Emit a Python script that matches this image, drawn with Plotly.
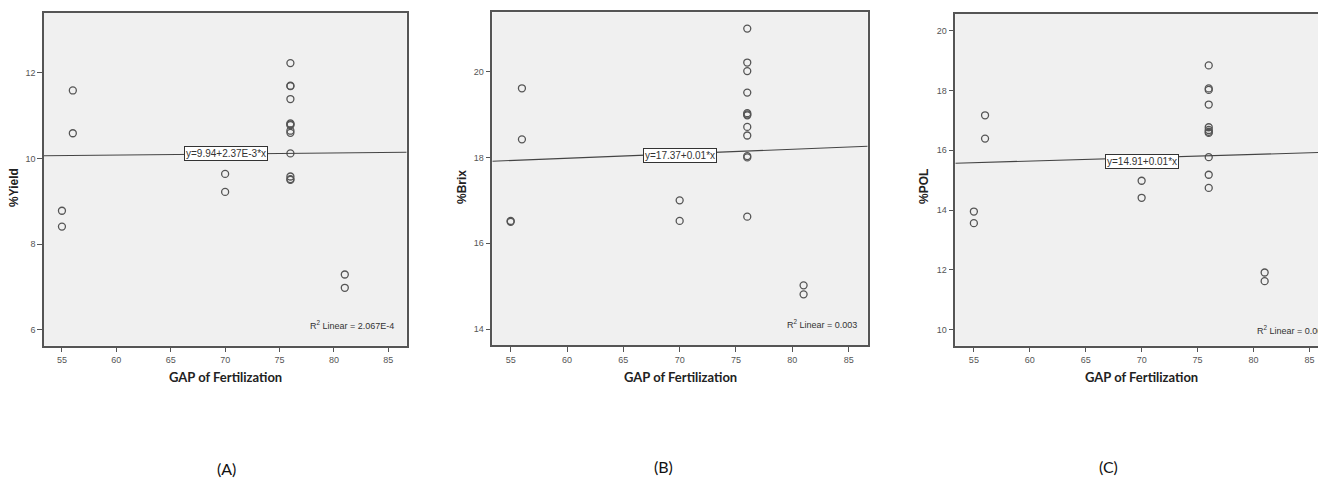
import plotly.graph_objects as go

W, H = 1318, 479

# ---------------- data ----------------
gap_a = [55, 55, 56, 56, 70, 70] + [76] * 13 + [81, 81]
yield_a = [8.78, 8.41, 11.59, 10.59, 9.64, 9.22,
           12.23, 11.70, 11.69, 11.39, 10.82, 10.80, 10.78, 10.65, 10.60, 10.12, 9.58, 9.52, 9.50,
           7.29, 6.98]

gap_b = [55, 55, 56, 56, 70, 70] + [76] * 12 + [81, 81]
brix_b = [16.52, 16.50, 19.61, 18.42, 17.00, 16.52,
          21.00, 20.21, 20.01, 19.51, 19.03, 19.00, 18.98, 18.71, 18.51, 18.03, 18.00, 16.62,
          15.02, 14.81]

gap_c = [55, 55, 56, 56, 70, 70] + [76] * 11 + [81, 81]
pol_c = [13.95, 13.56, 17.17, 16.39, 14.98, 14.41,
         18.84, 18.07, 18.02, 17.53, 16.77, 16.68, 16.62, 16.58, 15.77, 15.18, 14.74,
         11.91, 11.62]

# fit lines (intercept, slope) as drawn
fit_a = [9.94, 0.00237]
fit_b = [17.35, 0.0105]
fit_c = [14.98, 0.011]

eq_labels = ["y=9.94+2.37E-3*x", "y=17.37+0.01*x", "y=14.91+0.01*x"]
r2_labels = ["R<sup>2</sup> Linear = 2.067E-4", "R<sup>2</sup> Linear = 0.003", "R<sup>2</sup> Linear = 0.003"]
y_titles = ["%Yield", "%Brix", "%POL"]
x_title = "GAP of Fertilization"
panel_labels = ["(A)", "(B)", "(C)"]

# ---------------- layout geometry (pixels) ----------------
panels = [
    dict(x=gap_a, y=yield_a, fit=fit_a, px=(44, 406.7), py=(13, 345.7),
         xr=[53.35, 86.69], yr=[5.627, 13.40], mirror_y=True,
         eq=(70.1, 10.106), r2=(85.67, 6.12, "right"), ytitle=(14, 188),
         xtitle=(225, 377), plabel=(226, 468)),
    dict(x=gap_b, y=brix_b, fit=fit_b, px=(492.3, 867.7), py=(12.3, 345),
         xr=[53.37, 86.69], yr=[13.63, 21.38], mirror_y=True,
         eq=(70.0, 18.05), r2=(85.93, 14.11, "right"), ytitle=(462, 187),
         xtitle=(680, 377), plabel=(663, 466)),
    dict(x=gap_c, y=pol_c, fit=fit_c, px=(955.3, 1318), py=(14, 345.7),
         xr=[53.34, 85.77], yr=[9.46, 20.56], mirror_y=False,
         eq=(70.0, 15.62), r2=(80.15, 9.97, "left"), ytitle=(924, 187),
         xtitle=(1141, 377), plabel=(1108, 466)),
]

fig = go.Figure()
frame = "#555555"
tickfont = dict(family="Liberation Sans, Arial", size=9, color="#555555")
annotations = []

for i, p in enumerate(panels, start=1):
    xa = "x" if i == 1 else f"x{i}"
    ya = "y" if i == 1 else f"y{i}"
    fig.add_trace(go.Scatter(
        x=p["x"], y=p["y"], mode="markers", xaxis=xa, yaxis=ya,
        marker=dict(symbol="circle-open", size=7, color="#555555", line=dict(width=1.3)),
        showlegend=False, hoverinfo="skip"))
    b0, b1 = p["fit"]
    xs = [p["xr"][0], p["xr"][1]]
    fig.add_trace(go.Scatter(
        x=xs, y=[b0 + b1 * v for v in xs], mode="lines", xaxis=xa, yaxis=ya,
        line=dict(color="#444444", width=1.1), showlegend=False, hoverinfo="skip"))

    dx = [p["px"][0] / W, min(p["px"][1] / W, 1.0)]
    dy = [(H - p["py"][1]) / H, (H - p["py"][0]) / H]
    xkey = "xaxis" if i == 1 else f"xaxis{i}"
    ykey = "yaxis" if i == 1 else f"yaxis{i}"
    fig.update_layout(**{
        xkey: dict(domain=dx, range=p["xr"], anchor=ya, tick0=0, dtick=5,
                   showgrid=False, zeroline=False, showline=True, linecolor=frame,
                   linewidth=1.5, mirror=True, ticks="outside", ticklen=5,
                   tickcolor=frame, tickfont=tickfont),
        ykey: dict(domain=dy, range=p["yr"], anchor=xa, tick0=0, dtick=2,
                   showgrid=False, zeroline=False, showline=True, linecolor=frame,
                   linewidth=1.5, mirror=p["mirror_y"], ticks="outside", ticklen=5,
                   tickcolor=frame, tickfont=tickfont),
    })

    annotations.append(dict(
        x=p["eq"][0], y=p["eq"][1], xref=xa, yref=ya, text=eq_labels[i - 1],
        xanchor="center", yanchor="middle", showarrow=False,
        font=dict(family="Liberation Sans, Arial", size=10, color="#333333"),
        bgcolor="white", bordercolor="#333333", borderwidth=1, borderpad=1))
    annotations.append(dict(
        x=p["r2"][0], y=p["r2"][1], xref=xa, yref=ya, text=r2_labels[i - 1],
        xanchor=p["r2"][2], yanchor="middle", showarrow=False,
        font=dict(family="Liberation Sans, Arial", size=9, color="#333333")))
    annotations.append(dict(
        x=p["ytitle"][0] / W, y=(H - p["ytitle"][1]) / H, xref="paper", yref="paper",
        xanchor="center", yanchor="middle",
        text="<b>" + y_titles[i - 1] + "</b>", textangle=-90, showarrow=False,
        font=dict(family="Liberation Sans, Arial", size=12, color="#222222")))
    annotations.append(dict(
        x=p["xtitle"][0] / W, y=(H - p["xtitle"][1]) / H, xref="paper", yref="paper",
        xanchor="center", yanchor="middle",
        text="<b>" + x_title + "</b>", showarrow=False,
        font=dict(family="Lato, Open Sans", size=13, color="#222222")))
    annotations.append(dict(
        x=p["plabel"][0] / W, y=(H - p["plabel"][1]) / H, xref="paper", yref="paper",
        xanchor="center", yanchor="middle",
        text=panel_labels[i - 1], showarrow=False,
        font=dict(family="Lato, Open Sans", size=16, color="#111111")))

fig.update_layout(
    width=W, height=H, margin=dict(l=0, r=0, t=0, b=0),
    paper_bgcolor="white", plot_bgcolor="#f0f0f0",
    annotations=annotations, showlegend=False)

fig.write_html("out.html")
